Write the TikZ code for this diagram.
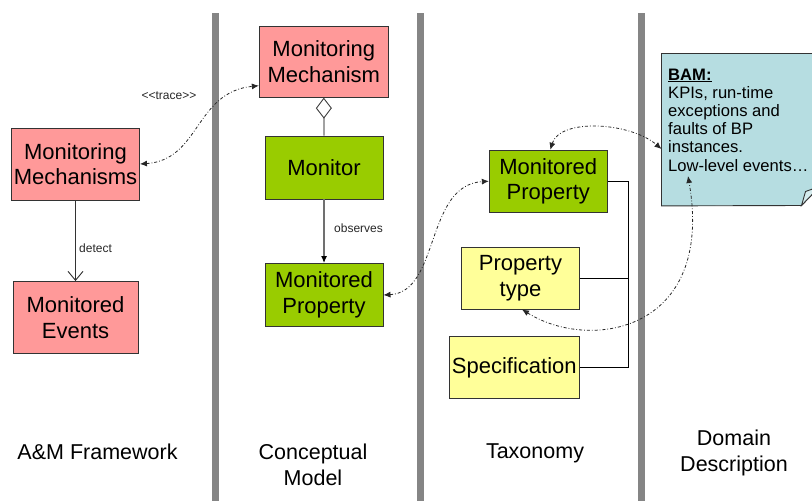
\documentclass[tikz,border=0pt]{standalone}
\usepackage{fontspec}
\setmainfont{Liberation Sans}
\usetikzlibrary{arrows.meta}
\definecolor{mechpink}{HTML}{FF9999}
\definecolor{concgreen}{HTML}{99CC00}
\definecolor{typeyellow}{HTML}{FFFF99}
\definecolor{notecyan}{HTML}{B6DDE1}
\definecolor{notecurl}{HTML}{D5ECEE}
\definecolor{bargray}{HTML}{858585}
\definecolor{linegray}{HTML}{707070}
\begin{document}
\begin{tikzpicture}[x=1pt,y=-1pt,
  box/.style={draw=black!80, line width=0.9pt, inner sep=0pt, align=center,
              font=\fontsize{22}{25.5}\selectfont},
  pinkbox/.style={box, fill=mechpink},
  greenbox/.style={box, fill=concgreen},
  yellowbox/.style={box, fill=typeyellow},
  tracelink/.style={line width=0.8pt, black!85,
              dash pattern=on 3pt off 2pt on 0.8pt off 2pt,
              {Latex[length=7pt,width=6pt]}-{Latex[length=7pt,width=6pt]}},
  lbl/.style={font=\fontsize{12}{14}\selectfont, inner sep=0pt, text=black!85},
  caption/.style={font=\fontsize{21.5}{26}\selectfont, align=center, inner sep=0pt},
]
\useasboundingbox (0,0) rectangle (812,501);
\clip (0,0) rectangle (812,501);

% lane separators
\foreach \x in {215.5,420.7,641.5}
  \fill[bargray] (\x-3.5,13) rectangle (\x+3.5,501);

% A&M framework lane
\node[pinkbox, minimum width=128pt, minimum height=72pt] (mms) at (75.5,164)
  {Monitoring\\Mechanisms};
\node[pinkbox, minimum width=125pt, minimum height=72pt] (mev) at (75.5,317.5)
  {Monitored\\Events};

% conceptual model lane
\node[pinkbox, minimum width=129pt, minimum height=71pt] (mm) at (323.8,61.7)
  {Monitoring\\Mechanism};
\node[greenbox, minimum width=118pt, minimum height=63pt] (mon) at (324,167.5)
  {Monitor};
\node[greenbox, minimum width=118pt, minimum height=63pt] (mpc) at (324,295)
  {Monitored\\Property};

% taxonomy lane
\node[greenbox, minimum width=118pt, minimum height=62pt] (mpt) at (548.3,181.2)
  {Monitored\\Property};
\node[yellowbox, minimum width=118pt, minimum height=62pt] (pty) at (520.5,278)
  {Property\\type};
\node[yellowbox, minimum width=130pt, minimum height=62pt] (spec) at (514.3,367.5)
  {Specification};

% domain description note with curled corner
\node[inner sep=0pt, minimum width=158pt, minimum height=152pt, anchor=north west]
  (bam) at (661.5,53.5) {};
\path[draw=black!80, line width=0.9pt, fill=notecyan]
  (bam.north west) -- (bam.north east) -- ([yshift=19.5pt]bam.south east)
  -- (801.5,205.5) -- (bam.south west) -- cycle;
\path[draw=black!80, line width=0.9pt, fill=notecurl]
  (801.5,205.5) -- (805.5,191.5) -- ([yshift=19.5pt]bam.south east) -- cycle;
\node[anchor=north west, inner sep=0pt, align=left,
      font=\fontsize{16.6}{18.2}\selectfont] (bamtext) at (668,68.5)
  {\underline{\textbf{BAM:}}\\KPIs, run-time\\exceptions and\\faults of BP\\instances.\\Low-level events…};
\coordinate (bamin) at (661.5,149);
\coordinate (bamlow) at (688,176);

% relations inside the lanes
\draw[linegray, line width=1.2pt,
      -{Diamond[fill=white, length=21pt, width=16pt, line width=0.9pt, color=black!75]}]
  (mon.north) -- (mm.south);
\draw[linegray, line width=1.2pt, -{Latex[length=7pt,width=6pt, color=black]}]
  (mon.south) -- (mpc.north);
\node[lbl, anchor=west] (obs) at (334,228) {observes};
\draw[black!80, line width=0.9pt, -{Straight Barb[length=9pt,width=15pt]}]
  (mms.south) -- (mev.north);
\node[lbl, anchor=west] (det) at (79,248) {detect};

% taxonomy tree
\coordinate (trunk) at (628.7,0);
\draw[black, line width=0.9pt] (mpt.east) -- (mpt.east -| trunk) |- (spec.east);
\draw[black, line width=0.9pt] (pty.east) -- (pty.east -| trunk);

% trace links between lanes
\draw[tracelink] (mms.east) .. controls (200,160) and (195,92) .. ([yshift=-24pt]mm.west);
\node[lbl] (trc) at (169,96) {\textless\kern0pt\textless\kern0pt trace\textgreater\kern0pt\textgreater};
\draw[tracelink] (mpc.east) .. controls (440,292) and (425,185) .. (mpt.west);
\draw[tracelink] ([xshift=2pt]mpt.north) .. controls (560,118) and (630,122) .. (bamin);
\draw[tracelink] ([xshift=1.5pt]pty.south) .. controls (590,352) and (715,332) .. (bamlow);

% lane captions
\node[caption] (capam) at (97.5,451.5) {A\&M Framework};
\node[caption] (capcm) at (313,465) {Conceptual\\Model};
\node[caption] (captx) at (535,453.5) {Taxonomy};
\node[caption] (capdd) at (734,453) {Domain\\Description};
\end{tikzpicture}
\end{document}
